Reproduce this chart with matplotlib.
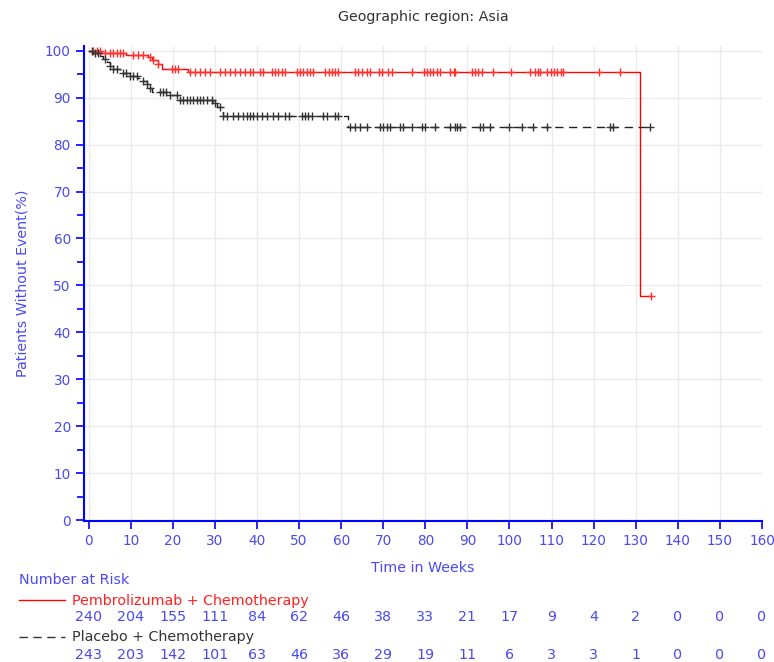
import numpy as np
import matplotlib.pyplot as plt
import matplotlib.transforms as mtransforms

# Kaplan-Meier step data (weeks, % without event)
pembro_t = [0, 3, 9, 14, 15, 16.5, 17.5, 23.6, 131]
pembro_s = [100, 99.6, 99.1, 98.7, 98.0, 97.2, 96.2, 95.5, 47.7]
pembro_end = 133.7
pembro_cens = [1.1, 1.9, 2.7, 3.9, 5.1, 5.8, 6.7, 7.4, 8.2, 10.6, 11.8, 13.0, 14.6, 15.4,
               16.5, 19.7, 20.5, 21.3, 24.1, 25.3, 26.5, 27.7, 28.8, 31.2, 32.4, 33.6,
               34.8, 36.0, 37.2, 38.4, 39.1, 40.7, 41.5, 43.5, 44.3, 45.1, 45.9, 46.7,
               49.5, 50.2, 51.0, 51.8, 52.6, 53.4, 56.2, 57.0, 57.8, 58.6, 59.3, 63.3,
               64.1, 64.9, 66.1, 66.9, 68.9, 69.7, 71.2, 72.0, 76.8, 79.6, 80.4, 81.1,
               81.9, 82.7, 83.5, 85.9, 86.7, 87.1, 91.1, 91.8, 92.6, 93.4, 96.2, 100.3,
               104.9, 106.1, 106.7, 107.3, 109.0, 109.8, 110.6, 111.4, 112.2, 112.8,
               121.2, 126.3, 133.7]

placebo_t = [0, 1, 2.7, 3.5, 4.3, 5.0, 5.5, 7.4, 9.8, 11.5, 12.7, 13.8, 14.3, 15.0,
             19.3, 21.0, 29.6, 30.5, 32.0, 61.6]
placebo_s = [100, 99.6, 98.8, 98.3, 97.5, 96.8, 96.0, 95.2, 94.7, 94.2, 93.5, 92.9,
             92.1, 91.3, 90.6, 89.6, 88.9, 88.1, 86.0, 83.7]
placebo_end = 133.3
placebo_cens = [0.7, 1.5, 2.3, 3.9, 5.1, 5.8, 6.7, 8.2, 9.0, 9.8, 10.6, 11.4, 13.0, 13.8,
                14.6, 17.0, 17.7, 18.5, 19.3, 20.9, 21.7, 22.5, 23.3, 24.1, 24.9, 25.7,
                26.5, 27.2, 28.1, 29.2, 30.0, 31.2, 32.0, 32.8, 34.4, 35.6, 36.8, 37.6,
                38.4, 39.1, 39.9, 41.1, 42.3, 43.9, 45.1, 46.7, 47.5, 50.6, 51.4, 52.2,
                53.0, 55.8, 56.6, 58.6, 59.3, 62.1, 63.3, 64.5, 66.1, 69.3, 70.0, 70.9,
                71.6, 74.0, 74.8, 76.8, 79.2, 80.0, 82.3, 85.9, 87.1, 87.5, 88.3, 93.0,
                93.8, 95.3, 99.8, 102.9, 105.7, 109.0, 123.8, 124.7, 133.3]

risk_weeks = list(range(0, 161, 10))
pembro_risk = [240, 204, 155, 111, 84, 62, 46, 38, 33, 21, 17, 9, 4, 2, 0, 0, 0]
placebo_risk = [243, 203, 142, 101, 63, 46, 36, 29, 19, 11, 6, 3, 3, 1, 0, 0, 0]

blue = '#0000ff'
label_blue = '#4a4af0'
fs = 10.3
tick_fs = 9.8

fig = plt.figure(figsize=(7.74, 6.62), dpi=100)
ax = fig.add_axes([0.1085, 0.213, 0.876, 0.7175])


def km_line(t, s, end):
    x = list(t) + [end]
    y = list(s) + [s[-1]]
    return x, y


def at_time(t, s, c):
    idx = np.searchsorted(np.array(t), np.array(c), side='right') - 1
    return np.array(s)[idx]


x, y = km_line(pembro_t, pembro_s, pembro_end)
ax.step(x, y, where='post', color='#ff0000', linewidth=1.0, zorder=3)
ax.plot(pembro_cens, at_time(pembro_t, pembro_s, pembro_cens), linestyle='none',
        marker='+', markersize=5.5, markeredgewidth=1.0, color='#ff3030', zorder=4)

x, y = km_line(placebo_t, placebo_s, placebo_end)
ax.step(x, y, where='post', color='#222222', linewidth=1.0, linestyle=(0, (6, 4)), zorder=3)
ax.plot(placebo_cens, at_time(placebo_t, placebo_s, placebo_cens), linestyle='none',
        marker='+', markersize=5.5, markeredgewidth=1.0, color='#333333', zorder=4)

ax.set_xlim(-1.1, 160)
ax.set_ylim(-0.2, 101)
ax.set_xticks(risk_weeks)
ax.set_yticks(range(0, 101, 10))
ax.set_yticks(range(5, 100, 10), minor=True)
ax.grid(True, color='#ebebeb', linewidth=1.0, zorder=0)
ax.set_axisbelow(True)

for side in ['top', 'right']:
    ax.spines[side].set_visible(False)
for side in ['left', 'bottom']:
    ax.spines[side].set_color(blue)
    ax.spines[side].set_linewidth(1.5)

ax.tick_params(axis='both', which='both', colors=blue, labelcolor=label_blue,
               labelsize=tick_fs, direction='out', length=6, width=1.2)
ax.tick_params(axis='y', which='minor', length=5)

ax.set_title('Geographic region: Asia', fontsize=fs, color='#333333', pad=18)
ax.set_ylabel('Patients Without Event(%)', fontsize=fs, color=label_blue, labelpad=11)
ax.set_xlabel('Time in Weeks', fontsize=fs, color=label_blue, labelpad=9)

# Number at risk table under the axis
trans = mtransforms.blended_transform_factory(ax.transData, fig.transFigure)
fig.text(19 / 774, 1 - 580 / 662, 'Number at Risk', fontsize=fs, color=label_blue,
         va='center', ha='left')

fig.add_artist(plt.Line2D([19 / 774, 65 / 774], [1 - 600 / 662] * 2, color='#ff0000',
                          linewidth=1.0, transform=fig.transFigure))
fig.text(72 / 774, 1 - 601 / 662, 'Pembrolizumab + Chemotherapy', fontsize=fs,
         color='#ff2020', va='center', ha='left')
for wk, n in zip(risk_weeks, pembro_risk):
    ax.text(wk, 1 - 617 / 662, str(n), transform=trans, fontsize=fs, color=label_blue,
            ha='center', va='center')

fig.add_artist(plt.Line2D([19 / 774, 65 / 774], [1 - 637 / 662] * 2, color='#333333',
                          linewidth=1.0, linestyle=(0, (6, 4)), transform=fig.transFigure))
fig.text(72 / 774, 1 - 637 / 662, 'Placebo + Chemotherapy', fontsize=fs,
         color='#333333', va='center', ha='left')
for wk, n in zip(risk_weeks, placebo_risk):
    ax.text(wk, 1 - 655 / 662, str(n), transform=trans, fontsize=fs, color=label_blue,
            ha='center', va='center')

fig.savefig('out.png', dpi=100)
